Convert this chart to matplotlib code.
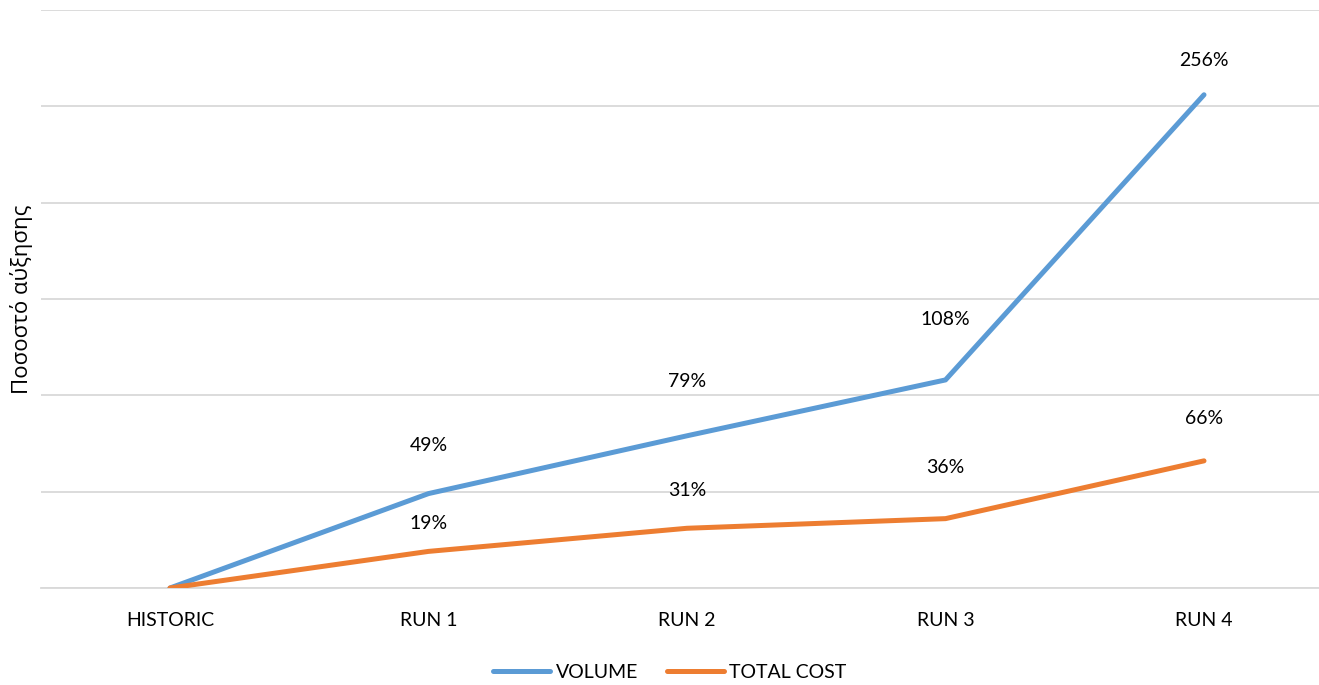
import matplotlib.pyplot as plt

categories = ["HISTORIC", "RUN 1", "RUN 2", "RUN 3", "RUN 4"]
volume = [0, 49, 79, 108, 256]
total_cost = [0, 19, 31, 36, 66]
y_ticks = [0, 50, 100, 150, 200, 250, 300]

plt.rcParams['font.family'] = ['Lato', 'DejaVu Sans']

W, H = 1319, 685
fig = plt.figure(figsize=(W / 100, H / 100), dpi=100)
# plot area in pixels: x 41..1333 (5 category bands), y 10..588 from top
left, right, top, bottom = 40.75, 1333.25, 10, 588
ax = fig.add_axes([left / W, (H - bottom) / H, (right - left) / W, (bottom - top) / H])

x = list(range(len(categories)))
blue, orange = '#5b9bd5', '#ed7d31'
ax.plot(x, volume, color=blue, lw=3.6, solid_capstyle='round', label='VOLUME', zorder=3)
ax.plot(x, total_cost, color=orange, lw=3.6, solid_capstyle='round', label='TOTAL COST', zorder=4)

fs = 14

# data labels (pixel offsets above each point, as placed in the original)
vol_off = [0, 48, 54, 60, 34]
cost_off = [0, 28, 38, 51, 42]
for xi, v, o in zip(x, volume, vol_off):
    if v:
        ax.annotate(f"{v}%", (xi, v), xytext=(0, o), textcoords='offset pixels',
                    ha='center', va='center', fontsize=fs, color='#000000')
for xi, v, o in zip(x, total_cost, cost_off):
    if v:
        ax.annotate(f"{v}%", (xi, v), xytext=(0, o), textcoords='offset pixels',
                    ha='center', va='center', fontsize=fs, color='#000000')

ax.set_xlim(-0.5, 4.5)
ax.set_ylim(0, 300)
ax.set_yticks(y_ticks)
ax.set_yticklabels([])
ax.set_xticks(x)
ax.set_xticklabels(categories, fontsize=fs)
ax.tick_params(axis='both', length=0)
ax.tick_params(axis='x', pad=17)
ax.grid(axis='y', color='#d9d9d9', lw=1.3, zorder=0)
ax.set_axisbelow(True)
for s in ['top', 'right', 'left']:
    ax.spines[s].set_visible(False)
ax.spines['bottom'].set_color('#d9d9d9')
ax.spines['bottom'].set_linewidth(1.3)

fig.text(22 / W, 1 - 299 / H, "Ποσοστό αύξησης", rotation=90, ha='center', va='center',
         fontsize=16, family=['Open Sans', 'DejaVu Sans'])

fig.legend(loc='center', bbox_to_anchor=(670 / W, 13 / H), ncol=2, frameon=False,
           fontsize=fs, handlelength=2.9, handletextpad=0.3, columnspacing=1.5)

fig.savefig('out.png', dpi=100)
